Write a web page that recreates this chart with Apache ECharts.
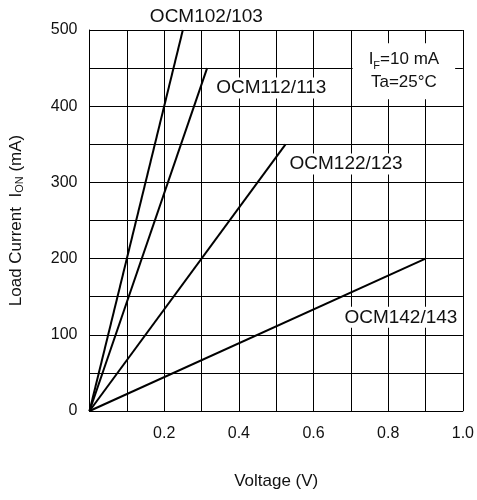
<!DOCTYPE html>
<html>
<head>
<meta charset="utf-8">
<script src="https://cdn.jsdelivr.net/npm/echarts@6/dist/echarts.min.js"></script>
<style>html,body{margin:0;padding:0;background:#fff;}#c{width:477px;height:500px;}</style>
</head>
<body>
<div id="c"></div>
<script>
// Data
const seriesNames = ['OCM102/103', 'OCM112/113', 'OCM122/123', 'OCM142/143'];
const ocm102 = [[0, 0], [0.25, 500]];
const ocm112 = [[0, 0], [0.315, 450]];
const ocm122 = [[0, 0], [0.525, 350]];
const ocm142 = [[0, 0], [0.9, 200]];
const labelCoords = [[0.313, 500], [0.487, 424], [0.687, 324], [0.834, 123]];
const labelOffsets = [[0, -13], [0, 0], [0, 0], [0, 0]];
const noteCoord = [0.842, 446];
const xTicks = [0.2, 0.4, 0.6, 0.8, 1.0];
const yTicks = [0, 100, 200, 300, 400, 500];

const FONT = '"Liberation Sans", Arial, sans-serif';
const chart = echarts.init(document.getElementById('c'), null, {renderer: 'canvas'});

const hiddenSym = {symbol: 'rect', symbolSize: 1, itemStyle: {color: 'rgba(0,0,0,0)'}};

const lineData = [ocm102, ocm112, ocm122, ocm142];
const series = lineData.map((d, i) => ({
  name: seriesNames[i],
  type: 'line',
  data: d,
  showSymbol: false,
  symbol: 'none',
  clip: false,
  lineStyle: {color: '#000', width: 2},
  z: 5,
  markPoint: Object.assign({}, hiddenSym, {
    silent: true,
    data: [{coord: labelCoords[i]}],
    label: {
      show: true,
      position: 'inside',
      offset: labelOffsets[i],
      formatter: seriesNames[i],
      fontFamily: FONT,
      fontSize: 19,
      color: '#111',
      backgroundColor: '#fff',
      padding: [1, 2]
    }
  })
}));

series.push({
  type: 'line',
  data: [],
  z: 6,
  markPoint: Object.assign({}, hiddenSym, {
    silent: true,
    data: [{coord: noteCoord}],
    label: {
      show: true,
      position: 'inside',
      fontFamily: FONT,
      fontSize: 17,
      color: '#111',
      backgroundColor: '#fff',
      padding: [5, 16, 5, 16],
      align: 'center',
      formatter: '{n|I}{s|F}{n|=10 mA}\n{n|Ta=25°C}',
      rich: {
        n: {fontFamily: FONT, fontSize: 17, color: '#111', lineHeight: 23},
        s: {fontFamily: FONT, fontSize: 11, color: '#111', verticalAlign: 'bottom', padding: [7, 0, 0, 0], lineHeight: 23}
      }
    }
  })
});

chart.setOption({
  animation: false,
  backgroundColor: '#fff',
  grid: {left: 87, right: 10, top: 30, bottom: 89, containLabel: false},
  xAxis: {
    type: 'value',
    min: 0, max: 1.0, interval: 0.1,
    name: 'Voltage (V)',
    nameLocation: 'middle',
    nameGap: 62,
    nameTextStyle: {fontFamily: FONT, fontSize: 17, color: '#111'},
    axisLine: {show: true, lineStyle: {color: '#000', width: 1}},
    axisTick: {show: false},
    splitLine: {show: true, lineStyle: {color: '#000', width: 1}},
    axisLabel: {
      fontFamily: FONT, fontSize: 16, color: '#111', margin: 15,
      formatter: v => {
        const r = Math.round(v * 10) / 10;
        return xTicks.some(t => Math.abs(t - r) < 1e-6) ? r.toFixed(1) : '';
      }
    }
  },
  yAxis: {
    type: 'value',
    min: 0, max: 500, interval: 50,
    name: '{n|Load Current  I}{s|ON}{n| (mA)}',
    nameLocation: 'middle',
    nameGap: 64,
    nameTextStyle: {
      fontFamily: FONT, fontSize: 17, color: '#111',
      rich: {
        n: {fontFamily: FONT, fontSize: 17, color: '#111'},
        s: {fontFamily: FONT, fontSize: 11, color: '#111', verticalAlign: 'bottom', padding: [7, 0, 0, 0]}
      }
    },
    axisLine: {show: true, lineStyle: {color: '#000', width: 1}},
    axisTick: {show: false},
    splitLine: {show: true, lineStyle: {color: '#000', width: 1}},
    axisLabel: {
      fontFamily: FONT, fontSize: 16, color: '#111', margin: 12,
      formatter: v => yTicks.indexOf(v) >= 0 ? String(v) : ''
    }
  },
  series: series
});
</script>
</body>
</html>
